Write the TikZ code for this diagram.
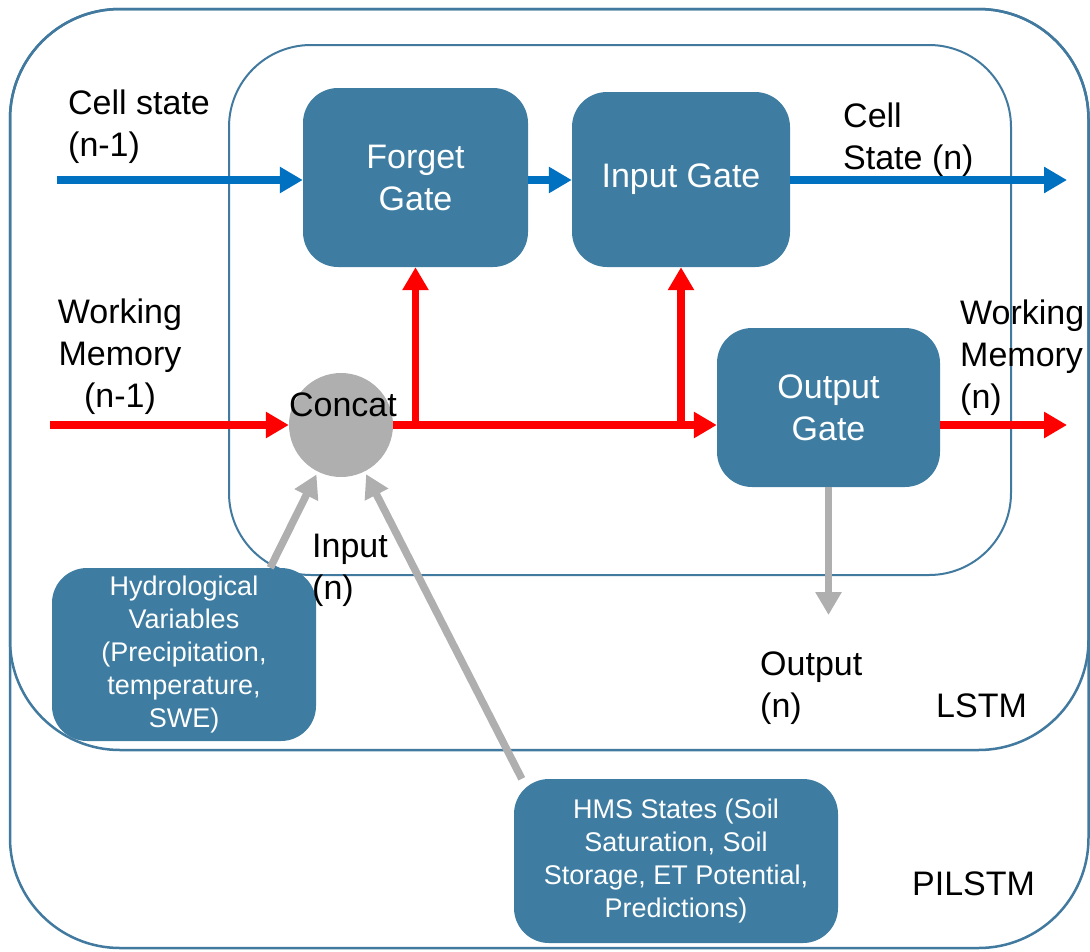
\documentclass[tikz,border=0pt]{standalone}
\usepackage{fontspec}
\setmainfont{Liberation Sans}
\usetikzlibrary{arrows.meta,calc}
\definecolor{boxblue}{HTML}{3E7DA1}
\definecolor{frameblue}{HTML}{41799F}
\definecolor{csblue}{HTML}{0070C0}
\definecolor{wmred}{HTML}{FF0000}
\definecolor{ingray}{HTML}{AFAFAF}
\tikzset{
  frame/.style={draw=frameblue, line width=2.5pt, rounded corners=110pt},
  cellframe/.style={draw=frameblue, line width=2pt, rounded corners=82pt},
  gate/.style={rectangle, rounded corners=35pt, fill=boxblue, text=white, inner sep=0pt, align=center, font=\fontsize{34}{42}\selectfont},
  srcbox/.style={rectangle, rounded corners=35pt, fill=boxblue, text=white, inner sep=0pt, align=center, font=\fontsize{27}{33}\selectfont},
  lbl/.style={inner sep=0pt, text=black, font=\fontsize{34}{42}\selectfont},
  flow/.style={line width=7.5pt, -{Triangle[length=23pt,width=25pt]}},
  cellflow/.style={flow, draw=csblue},
  memflow/.style={flow, draw=wmred},
  inflow/.style={flow, draw=ingray},
}
\begin{document}
\begin{tikzpicture}[x=1pt,y=-1pt]
\useasboundingbox (0,0) rectangle (1090,951);
% containers
\draw[frame] (10,9) rectangle (1088.5,948);
\draw[frame] (10,9) rectangle (1088.5,750);
\draw[cellframe] (229,45) rectangle (1011,575);

% gates
\node[gate, minimum width=225pt, minimum height=179pt] (forget) at (415.5,177.5) {Forget\\Gate};
\node[gate, minimum width=218pt, minimum height=175pt] (input) at (681,179.5) {Input Gate};
\node[gate, minimum width=223pt, minimum height=159pt] (output) at (828.5,407.5) {Output\\Gate};
\node[circle, fill=ingray, minimum size=104pt, inner sep=0pt] (concat) at (341,425) {};
\node[lbl] (concatlbl) at (343,405) {Concat};

% source boxes
\node[srcbox, minimum width=264pt, minimum height=173pt] (hydro) at (184,654.5) {Hydrological\\Variables\\(Precipitation,\\temperature,\\SWE)};
\node[srcbox, minimum width=324pt, minimum height=164pt] (hms) at (676,861) {HMS States (Soil\\Saturation, Soil\\Storage, ET Potential,\\Predictions)};

% labels
\node[lbl, align=left, anchor=west] (cellinlbl) at (68,127) {Cell state\\(n-1)};
\node[lbl, align=center] (wminlbl) at (120,357) {Working\\Memory\\(n-1)};
\node[lbl, align=left, anchor=west] (celloutlbl) at (843,140) {Cell\\State (n)};
\node[lbl, align=left, anchor=west] (wmoutlbl) at (960,358) {Working\\Memory\\(n)};
\node[lbl, align=left, anchor=west] (inputlbl) at (312,570) {Input\\(n)};
\node[lbl, align=left, anchor=west] (outputlbl) at (760,688) {Output\\(n)};
\node[lbl, anchor=west] (lstmlbl) at (936,706) {LSTM};
\node[lbl, anchor=west] (pilstmlbl) at (912,884) {PILSTM};

% free ends
\coordinate (csin) at (57,180);
\coordinate (csout) at (1067,180);
\coordinate (wmin) at (50,425);
\coordinate (wmout) at (1067,425);
\coordinate (outn) at (828.5,615);

% cell state (blue)
\draw[cellflow] (csin) -- (csin -| forget.west);
\draw[cellflow] (forget.east |- csin) -- (input.west |- csin);
\draw[cellflow] (input.east |- csin) -- (csout);

% working memory (red)
\draw[memflow] (wmin) -- (concat);
\draw[memflow] (concat.east) -- (concat.east -| output.west);
\draw[memflow] (forget.south |- concat.east) -- (forget.south);
\draw[memflow] (input.south |- concat.east) -- (input.south);
\draw[memflow] (output.east |- concat.east) -- (wmout);

% inputs and output (gray)
\draw[inflow, shorten >=3pt] ($(hydro.north east)+(-46,0)$) -- (concat);
\draw[inflow, shorten >=3pt] ($(hms.north west)+(8,0)$) -- (concat);
\draw[inflow] (output.south) -- (outn);
\end{tikzpicture}
\end{document}
